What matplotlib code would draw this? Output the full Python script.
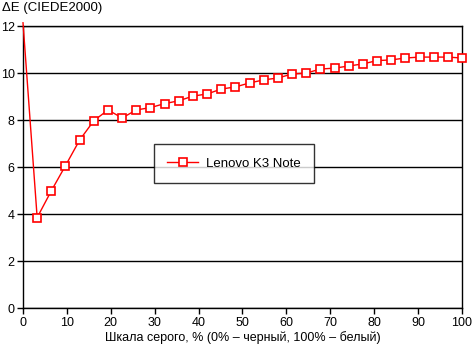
import matplotlib
matplotlib.use("Agg")
import matplotlib.pyplot as plt
import numpy as np

plt.rcParams['font.family'] = ['Liberation Sans', 'DejaVu Sans']

steps = list(range(32))
gray = [i * 100 / 31 for i in steps]
delta_e = [12.15, 3.86, 5.00, 6.07, 7.16, 7.98, 8.44, 8.10, 8.44, 8.54, 8.71,
           8.83, 9.03, 9.12, 9.33, 9.42, 9.59, 9.72, 9.80, 9.97, 10.01, 10.18,
           10.22, 10.31, 10.40, 10.54, 10.57, 10.65, 10.69, 10.69, 10.69, 10.65]
series_name = "Lenovo K3 Note"
xticks = list(range(0, 101, 10))
yticks = list(range(0, 13, 2))

fig = plt.figure(figsize=(4.72, 3.52), dpi=100)
ax = fig.add_axes([23/472, 1 - 308.3/352, (462 - 23)/472, (308.3 - 26.3)/352])

ax.plot(gray, delta_e, color='#ff0000', lw=1, marker='s', markersize=6.2,
        markerfacecolor='white', markeredgecolor='#ff0000', markeredgewidth=1.2,
        markevery=slice(1, None), label=series_name, clip_on=False, zorder=3)

ax.set_xlim(0, 100)
ax.set_ylim(0, 12)
ax.set_xticks(xticks)
ax.set_yticks(yticks)
ax.yaxis.grid(True, color='black', lw=1)
ax.set_axisbelow(True)
for s in ax.spines.values():
    s.set_color('black')
    s.set_linewidth(1)
ax.tick_params(axis='both', direction='out', length=4, width=1, color='black',
               labelsize=9, pad=2)
ax.set_xlabel("Шкала серого, % (0% – черный, 100% – белый)", fontsize=9, labelpad=2)
fig.text(2/472, 1 - 8/352, "ΔE (CIEDE2000)", fontsize=9.5, ha='left', va='center')

leg = ax.legend(loc='center', bbox_to_anchor=((234 - 23)/439, (308.3 - 163.5)/282),
                frameon=True, fancybox=False, shadow=False, fontsize=9.5,
                borderpad=1.05, handlelength=2.3, handletextpad=0.6,
                borderaxespad=0)
leg.get_frame().set_edgecolor('black')
leg.get_frame().set_linewidth(1)

fig.savefig("out.png", dpi=100)
